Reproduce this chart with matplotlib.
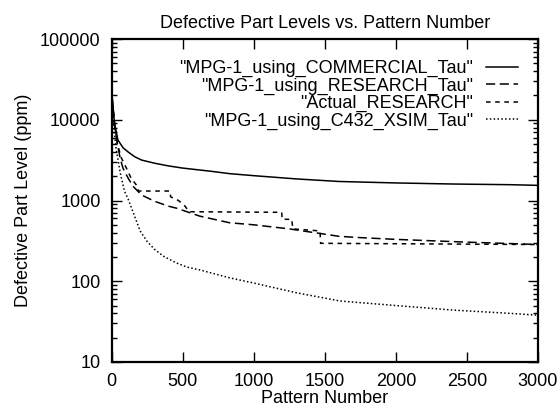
import matplotlib
matplotlib.use("Agg")
import matplotlib.pyplot as plt
from matplotlib.ticker import LogLocator, NullFormatter, MultipleLocator

plt.rcParams['font.family'] = ['Liberation Sans', 'DejaVu Sans']

# ---- data ----
commercial_x = [1, 20, 44, 80, 115, 160, 210, 300, 400, 500, 700, 830, 1000, 1300, 1600, 2000, 2400, 2800, 3000]
commercial_y = [21000, 9000, 5600, 4500, 4000, 3500, 3170, 2900, 2680, 2520, 2300, 2150, 2030, 1850, 1720, 1650, 1600, 1570, 1540]

research_x = [1, 20, 40, 60, 80, 115, 150, 210, 300, 400, 460, 620, 830, 1000, 1250, 1600, 1750, 2000, 2500, 2750, 3000]
research_y = [21000, 8500, 5000, 3300, 2500, 1900, 1500, 1170, 980, 850, 800, 640, 530, 500, 445, 360, 347, 330, 305, 295, 285]

actual_x = [1, 20, 40, 68, 103, 136, 173, 190, 410, 415, 470, 515, 545, 1196, 1200, 1267, 1275, 1466, 1470, 3000]
actual_y = [21000, 9000, 5000, 3360, 2530, 1900, 1560, 1310, 1310, 1110, 1000, 855, 726, 714, 585, 585, 445, 420, 295, 285]

c432_x = [1, 15, 30, 60, 90, 115, 150, 200, 250, 300, 363, 450, 527, 621, 832, 1000, 1300, 1606, 2000, 2400, 2803, 3000]
c432_y = [21000, 8000, 4500, 2200, 1300, 1050, 720, 420, 310, 250, 205, 170, 150, 138, 110, 95, 72, 57, 50, 44, 40, 38]

labels = ['"MPG-1_using_COMMERCIAL_Tau"', '"MPG-1_using_RESEARCH_Tau"',
          '"Actual_RESEARCH"', '"MPG-1_using_C432_XSIM_Tau"']

fig = plt.figure(figsize=(5.6, 4.09), dpi=100)
ax = fig.add_axes([111.7/560, 47/409, (538-111.7)/560, 323/409])

lw = 1.1
ax.plot(commercial_x, commercial_y, color='black', lw=lw, ls='-', label=labels[0])
ax.plot(research_x, research_y, color='black', lw=lw, ls=(0, (6, 3)), label=labels[1])
ax.plot(actual_x, actual_y, color='black', lw=lw, ls=(0, (3, 3)), label=labels[2])
ax.plot(c432_x, c432_y, color='black', lw=lw, ls=(0, (1, 1.5)), label=labels[3])

ax.set_yscale('log')
ax.set_xlim(0, 3000)
ax.set_ylim(10, 100000)
ax.xaxis.set_major_locator(MultipleLocator(500))
ax.set_yticks([10, 100, 1000, 10000, 100000])
ax.set_yticklabels(['10', '100', '1000', '10000', '100000'])
ax.yaxis.set_minor_locator(LogLocator(base=10, subs=range(2, 10)))
ax.yaxis.set_minor_formatter(NullFormatter())

fs = 13
ax.tick_params(which='major', direction='in', length=7, width=1, top=True, right=True,
               labelsize=fs, pad=8)
ax.tick_params(which='minor', direction='in', length=3.5, width=1, top=True, right=True)
for s in ax.spines.values():
    s.set_linewidth(1.6)

ax.set_title('Defective Part Levels vs. Pattern Number', fontsize=fs, pad=8)
ax.set_xlabel('Pattern Number', fontsize=fs, labelpad=0)
ax.set_ylabel('Defective Part Level (ppm)', fontsize=fs, labelpad=6)

leg = ax.legend(loc='upper right', bbox_to_anchor=((518-111.7)/426.3, (362-60)/323),
                frameon=False, markerfirst=False, fontsize=fs, borderpad=0,
                borderaxespad=0, handlelength=1.8, handletextpad=0.7, labelspacing=0.02)

fig.savefig('out.png', dpi=100)
